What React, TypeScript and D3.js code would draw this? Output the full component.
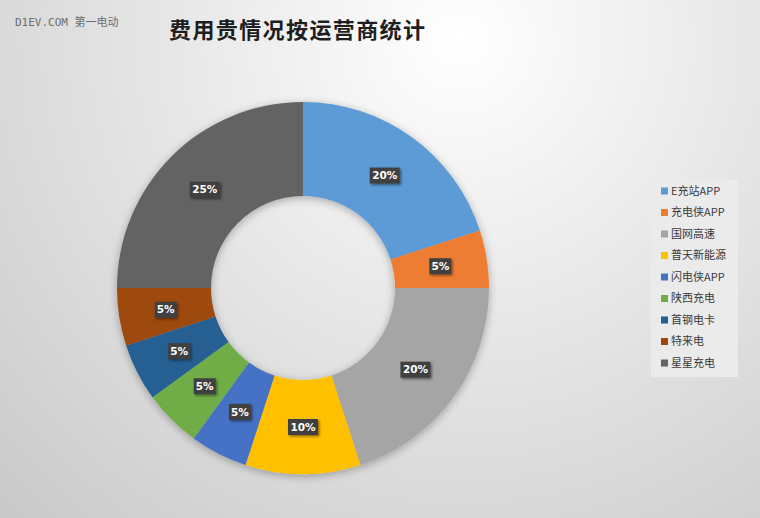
import * as d3 from 'd3'

const operators = ['E充站APP', '充电侠APP', '国网高速', '普天新能源', '闪电侠APP', '陕西充电', '首钢电卡', '特来电', '星星充电']
const shares = [20, 5, 20, 10, 5, 5, 5, 5, 25]
const colors = ['#5B9BD5', '#ED7D31', '#A5A5A5', '#FFC000', '#4472C4', '#70AD47', '#255E91', '#9E480E', '#636363']

const W = 760
const H = 518
const cx = 303
const cy = 288
const outerR = 186
const innerR = 92

type Slice = { name: string; value: number; color: string }

const App = () => {
  const data: Slice[] = operators.map((name, i) => ({ name, value: shares[i], color: colors[i] }))
  const total = d3.sum(shares)

  const pie = d3.pie<Slice>().value(d => d.value).sort(null)
  const arcs = pie(data)
  const arcGen = d3.arc<d3.PieArcDatum<Slice>>().innerRadius(innerR).outerRadius(outerR)
  const labelArc = d3.arc<d3.PieArcDatum<Slice>>().innerRadius(139).outerRadius(139)

  const legendY = d3.scalePoint<string>().domain(operators).range([191, 363])

  return (
    <div style={{ position: 'absolute', left: 0, top: 0 }}>
      <svg width={W} height={H}>
        <defs>
          <radialGradient id="bg" gradientUnits="userSpaceOnUse" cx={460} cy={40} r={660}>
            <stop offset="0" stopColor="#ffffff" />
            <stop offset="0.35" stopColor="#ececec" />
            <stop offset="1" stopColor="#c9c9c9" />
          </radialGradient>
          <filter id="ringShadow" x="-20%" y="-20%" width="140%" height="140%">
            <feDropShadow dx={0} dy={2} stdDeviation={4} floodColor="#000" floodOpacity={0.3} />
          </filter>
          <filter id="boxShadow" x="-30%" y="-30%" width="160%" height="180%">
            <feDropShadow dx={1.5} dy={1.5} stdDeviation={1.2} floodColor="#000" floodOpacity={0.45} />
          </filter>
        </defs>
        <rect width={W} height={H} fill="url(#bg)" />

        <text x={15} y={26} fontSize={11} fill="#6e6e6e" fontFamily="'DejaVu Sans Mono', 'Noto Sans CJK SC', monospace">
          D1EV.COM 第一电动
        </text>
        <text
          x={169}
          y={38}
          fontSize={22}
          fontWeight={600}
          fill="#1e1e1e"
          fontFamily="'Noto Sans CJK SC', sans-serif"
          letterSpacing={1.4}
        >
          费用贵情况按运营商统计
        </text>

        <g transform={`translate(${cx},${cy})`}>
          <g filter="url(#ringShadow)">
            {arcs.map((a, i) => (
              <path key={i} d={arcGen(a) ?? ''} fill={a.data.color} />
            ))}
          </g>
          {arcs.map((a, i) => {
            const [lx, ly] = labelArc.centroid(a)
            const txt = `${Math.round((a.data.value / total) * 100)}%`
            const bw = txt.length > 2 ? 30 : 22
            return (
              <g key={i} transform={`translate(${lx},${ly})`}>
                <rect x={-bw / 2} y={-8} width={bw} height={16} fill="#404040" filter="url(#boxShadow)" />
                <text
                  textAnchor="middle"
                  dy="0.35em"
                  fontSize={10.5}
                  fontWeight="bold"
                  fill="#ffffff"
                  fontFamily="'DejaVu Sans', 'Noto Sans', sans-serif"
                >
                  {txt}
                </text>
              </g>
            )
          })}
        </g>

        <g>
          <rect x={651} y={180} width={87} height={197} fill="#ebebeb" />
          {data.map(d => (
            <g key={d.name} transform={`translate(661,${legendY(d.name)})`}>
              <rect x={0} y={-3.5} width={7} height={7} fill={d.color} />
              <text x={10} dy="0.35em" fontSize={11} fill="#3a3a3a" fontFamily="'Noto Sans CJK SC', sans-serif">
                {d.name}
              </text>
            </g>
          ))}
        </g>
      </svg>
    </div>
  )
}

export default App
